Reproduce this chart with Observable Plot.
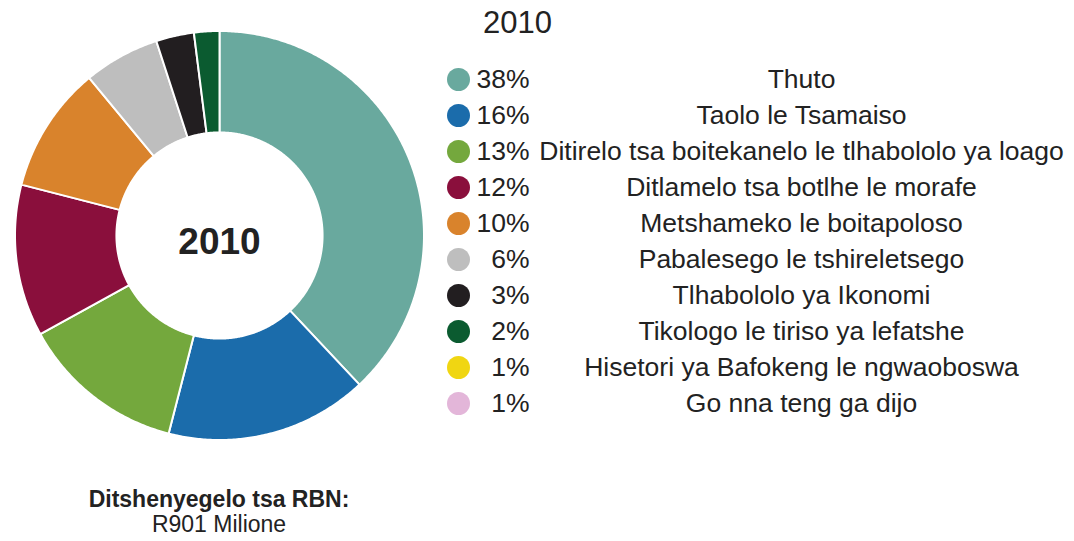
<!DOCTYPE html>
<html><head><meta charset="utf-8">
<script src="https://cdn.jsdelivr.net/npm/d3@7"></script>
<script src="https://cdn.jsdelivr.net/npm/@observablehq/plot@0.6"></script>
<style>
html,body{margin:0;padding:0;background:#fff;}
#chart{position:relative;width:1074px;height:541px;font-family:"Liberation Sans",Arial,sans-serif;color:#222;overflow:hidden;}
#donut,#legend{position:absolute;top:0;}
#donut{left:0}
#legend{left:430px}
#caption{position:absolute;left:0;width:438px;top:487px;text-align:center;font-size:23px;line-height:25px;color:#222;}
</style></head><body>
<div id="chart"><div id="donut"></div><div id="legend"></div><div id="caption"></div></div>
<script>
const year = "2010";
const categories = [
  "Thuto",
  "Taolo le Tsamaiso",
  "Ditirelo tsa boitekanelo le tlhabololo ya loago",
  "Ditlamelo tsa botlhe le morafe",
  "Metshameko le boitapoloso",
  "Pabalesego le tshireletsego",
  "Tlhabololo ya Ikonomi",
  "Tikologo le tiriso ya lefatshe",
  "Hisetori ya Bafokeng le ngwaoboswa",
  "Go nna teng ga dijo"
];
const percentLabels = ["38%","16%","13%","12%","10%","6%","3%","2%","1%","1%"];
// slice shares as drawn in the donut (the two 1% items are not visible)
const sliceShares = [38, 16, 13, 12, 10, 6, 3, 2, 0, 0];
const colors = ["#69a99e","#1b6cab","#74a83d","#8a0f3c","#d9832c","#bebebe","#221e20","#0b5b30","#f0d612","#e3b6d9"];
const captionTitle = "Ditshenyegelo tsa RBN:";
const captionValue = "R901 Milione";

const rows = categories.map((c, i) => ({category: c, pct: percentLabels[i], share: sliceShares[i]}));
const FONT = '"Liberation Sans", Arial, sans-serif';

// donut slices as polygons in unit coordinates
const innerRatio = 0.504;
const arcs = d3.pie().sort(null).value(d => d.share)(rows);
const poly = [];
arcs.forEach(p => {
  const a0 = p.startAngle, a1 = p.endAngle;
  if (a1 - a0 <= 0) return;
  const n = Math.max(2, Math.ceil((a1 - a0) / (Math.PI / 360)));
  const pts = [];
  for (let k = 0; k <= n; k++) { const a = a0 + (a1 - a0) * k / n; pts.push([Math.sin(a), Math.cos(a)]); }
  for (let k = n; k >= 0; k--) { const a = a0 + (a1 - a0) * k / n; pts.push([innerRatio * Math.sin(a), innerRatio * Math.cos(a)]); }
  pts.push(pts[0]);
  pts.forEach(([x, y]) => poly.push({x, y, category: p.data.category}));
});

const donut = Plot.plot({
  width: 450, height: 480, margin: 0,
  style: {fontFamily: FONT, background: "transparent"},
  x: {domain: [-1, 1], range: [14.5, 423.5], axis: null},
  y: {domain: [-1, 1], range: [439.5, 30.5], axis: null},
  color: {domain: categories, range: colors},
  marks: [
    Plot.line(poly, {x: "x", y: "y", z: "category", fill: "category", stroke: "white", strokeWidth: 2, strokeLinejoin: "round", curve: "linear"}),
    Plot.text([year], {x: () => 0, y: () => 0, text: d => d, fontSize: 37, fontWeight: "bold", fill: "#222", dy: 7})
  ]
});
document.getElementById("donut").appendChild(donut);

const legend = Plot.plot({
  width: 644, height: 541, margin: 0,
  style: {fontFamily: FONT, background: "transparent"},
  y: {type: "point", domain: categories, range: [75, 406], padding: 0, axis: null},
  color: {domain: categories, range: colors},
  marks: [
    Plot.text([year], {frameAnchor: "top-left", dx: 87, dy: 23, lineAnchor: "middle", textAnchor: "middle", fontSize: 31, fill: "#222", text: d => d}),
    Plot.dot(rows, {y: "category", fill: "category", r: 11.5, frameAnchor: "left", dx: 28}),
    Plot.text(rows, {y: "category", text: "pct", frameAnchor: "left", dx: 99, textAnchor: "end", lineAnchor: "middle", fontSize: 26.5, fill: "#222"}),
    Plot.text(rows, {y: "category", text: "category", frameAnchor: "left", dx: 371, textAnchor: "middle", lineAnchor: "middle", fontSize: 26.5, fill: "#222"})
  ]
});
document.getElementById("legend").appendChild(legend);

const cap = document.getElementById("caption");
const b = document.createElement("b"); b.textContent = captionTitle;
cap.appendChild(b); cap.appendChild(document.createElement("br"));
cap.appendChild(document.createTextNode(captionValue));
</script>
</body></html>
